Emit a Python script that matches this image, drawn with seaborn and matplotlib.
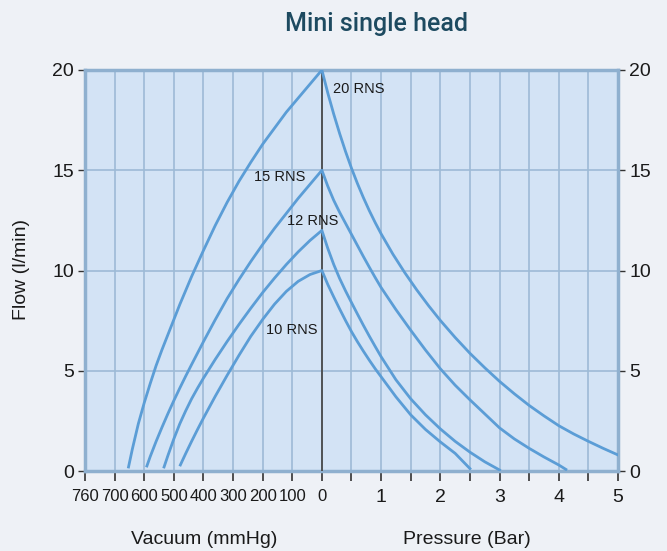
import numpy as np
import pandas as pd
import matplotlib
matplotlib.use("Agg")
import matplotlib.pyplot as plt
import seaborn as sns

# ---------------- data ----------------
title = "Mini single head"
models = ["20 RNS", "15 RNS", "12 RNS", "10 RNS"]

vac_tick_labels = ["760", "700", "600", "500", "400", "300", "200", "100", "0"]
vac_tick_values = [760, 700, 600, 500, 400, 300, 200, 100, 0]
bar_tick_labels = ["", "1", "", "2", "", "3", "", "4", "", "5"]
bar_tick_values = [0.5, 1, 1.5, 2, 2.5, 3, 3.5, 4, 4.5, 5]
flow_ticks = [0, 5, 10, 15, 20]

# vacuum side (mmHg -> flow l/min)
vac_20_mmhg = [653, 640, 620, 600, 580, 560, 540, 520, 500, 480, 460, 440,
               400, 360, 320, 280, 240, 200, 160, 120, 80, 40, 0]
vac_20_flow = [0.2, 1.1, 2.35, 3.4, 4.35, 5.25, 6.05, 6.8, 7.55, 8.3, 9.0, 9.7,
               11.0, 12.25, 13.4, 14.45, 15.4, 16.3, 17.1, 17.9, 18.6, 19.3, 20.0]
vac_15_mmhg = [591, 580, 560, 540, 520, 500, 480, 460, 440, 400,
               360, 320, 280, 240, 200, 160, 120, 80, 40, 0]
vac_15_flow = [0.25, 0.71, 1.47, 2.18, 2.86, 3.51, 4.13, 4.73, 5.31, 6.45,
               7.55, 8.6, 9.55, 10.45, 11.3, 12.1, 12.85, 13.6, 14.3, 15.0]
vac_12_mmhg = [533, 520, 500, 480, 460, 440, 420, 400, 360, 320, 280, 240,
               200, 160, 120, 80, 40, 0]
vac_12_flow = [0.2, 0.77, 1.6, 2.35, 3.0, 3.6, 4.13, 4.63, 5.57, 6.46, 7.31, 8.12,
               8.9, 9.62, 10.3, 10.93, 11.5, 12.0]
vac_10_mmhg = [478, 460, 440, 420, 400, 360, 320, 280, 240, 200, 160, 120, 80, 40, 0]
vac_10_flow = [0.3, 0.87, 1.48, 2.07, 2.64, 3.73, 4.77, 5.77, 6.72, 7.56, 8.32,
               8.96, 9.46, 9.8, 10.0]

# pressure side (bar -> flow l/min)
prs_20_bar = [0, 0.1, 0.2, 0.3, 0.4, 0.5, 0.6, 0.7, 0.8, 0.9, 1.0, 1.2, 1.4, 1.6,
              1.8, 2.0, 2.25, 2.5, 2.75, 3.0, 3.25, 3.5, 3.75, 4.0, 4.25, 4.5, 4.75, 5.0]
prs_20_flow = [20, 18.85, 17.8, 16.83, 15.93, 15.1, 14.34, 13.64, 12.99, 12.39, 11.83,
               10.81, 9.89, 9.04, 8.25, 7.51, 6.66, 5.87, 5.15, 4.47, 3.85, 3.27,
               2.75, 2.26, 1.85, 1.48, 1.13, 0.8]
prs_15_bar = [0, 0.1, 0.2, 0.3, 0.4, 0.5, 0.6, 0.7, 0.8, 0.9, 1.0, 1.25, 1.5, 1.75,
              2.0, 2.25, 2.5, 2.75, 3.0, 3.25, 3.5, 3.75, 4.0, 4.12]
prs_15_flow = [15, 14.2, 13.5, 12.9, 12.35, 11.8, 11.25, 10.7, 10.17, 9.65, 9.15,
               8.05, 7.02, 6.03, 5.1, 4.28, 3.55, 2.85, 2.15, 1.6, 1.13, 0.7, 0.3, 0.08]
prs_12_bar = [0, 0.1, 0.2, 0.3, 0.4, 0.5, 0.6, 0.7, 0.8, 0.9, 1.0, 1.25, 1.5, 1.75,
              2.0, 2.25, 2.5, 2.75, 3.0]
prs_12_flow = [12, 11.1, 10.3, 9.6, 8.98, 8.4, 7.83, 7.27, 6.73, 6.21, 5.7, 4.55,
               3.6, 2.8, 2.1, 1.48, 0.94, 0.46, 0.05]
prs_10_bar = [0, 0.1, 0.2, 0.3, 0.4, 0.5, 0.6, 0.7, 0.8, 0.9, 1.0, 1.25, 1.5, 1.75,
              2.0, 2.25, 2.5]
prs_10_flow = [10, 9.3, 8.68, 8.08, 7.5, 6.95, 6.45, 5.98, 5.53, 5.1, 4.7, 3.7, 2.8,
               2.07, 1.45, 0.88, 0.12]

vac_data = {"20 RNS": (vac_20_mmhg, vac_20_flow), "15 RNS": (vac_15_mmhg, vac_15_flow),
            "12 RNS": (vac_12_mmhg, vac_12_flow), "10 RNS": (vac_10_mmhg, vac_10_flow)}
prs_data = {"20 RNS": (prs_20_bar, prs_20_flow), "15 RNS": (prs_15_bar, prs_15_flow),
            "12 RNS": (prs_12_bar, prs_12_flow), "10 RNS": (prs_10_bar, prs_10_flow)}

# ---------------- scale ----------------
# vacuum ticks sit at evenly spaced positions left of 0 (0.5 unit per tick)
vac_tick_pos = [-0.5 * (len(vac_tick_values) - 1 - i) for i in range(len(vac_tick_values))]
vac_sorted = sorted(zip(vac_tick_values, vac_tick_pos))
vac_xp = [v for v, p in vac_sorted]
vac_fp = [p for v, p in vac_sorted]


def vac_to_pos(mm):
    return np.interp(mm, vac_xp, vac_fp)


rows = []
for m in models:
    vm, vf = vac_data[m]
    for mm, f in zip(vm, vf):
        rows.append({"model": m, "pos": float(vac_to_pos(mm)), "flow": f})
    pb, pf = prs_data[m]
    for b, f in list(zip(pb, pf))[1:]:
        rows.append({"model": m, "pos": b, "flow": f})
df = pd.DataFrame(rows)

# ---------------- style ----------------
bg = "#EEF1F6"
plot_bg = "#D3E3F5"
grid_c = "#9DBAD6"
spine_c = "#8FB0CF"
curve_c = "#5B9DD6"
text_c = "#1A1A1A"

plt.rcParams["font.family"] = ["Liberation Sans", "DejaVu Sans"]

fig = plt.figure(figsize=(6.67, 5.51), dpi=100, facecolor=bg)
ax = fig.add_axes([85 / 667, 1 - 471 / 551, 533 / 667, 401 / 551])
ax.set_facecolor(plot_bg)

sns.lineplot(data=df, x="pos", y="flow", units="model", estimator=None, sort=False,
             color=curve_c, lw=2.0, ax=ax, legend=False, zorder=4)

ax.axvline(0, color="#4A4A4A", lw=1.3, zorder=3)

ax.set_xlim(-4, 5)
ax.set_ylim(0, 20)
ax.set_xticks(vac_tick_pos + bar_tick_values)
ax.set_xticklabels(vac_tick_labels + bar_tick_labels)
ax.set_yticks(flow_ticks)
ax.set_yticklabels([str(t) for t in flow_ticks])
ax.grid(True, color=grid_c, lw=1.2, zorder=1)
ax.set_axisbelow(True)

for s in ax.spines.values():
    s.set_color(spine_c)
    s.set_linewidth(2.5)

ax.tick_params(axis="x", length=7, width=1.2, color="#333333", pad=6,
               labelsize=12, labelcolor=text_c)
ax.tick_params(axis="y", left=True, right=True, labelleft=True, labelright=True,
               length=5, width=1.0, color="#333333", pad=3, labelsize=14,
               labelcolor=text_c)
# pressure numbers are a little larger than the crowded vacuum numbers
for lbl in ax.get_xticklabels()[len(vac_tick_labels):]:
    lbl.set_fontsize(14)
ax.set_xlabel("")
ax.set_ylabel("")

# curve labels
ax.text(0.19, 19.05, "20 RNS", ha="left", va="center", fontsize=10.5, color=text_c, zorder=5)
ax.text(-1.145, 14.64, "15 RNS", ha="left", va="center", fontsize=10.5, color=text_c, zorder=5)
ax.text(-0.589, 12.49, "12 RNS", ha="left", va="center", fontsize=10.5, color=text_c, zorder=5)
ax.text(-0.95, 7.01, "10 RNS", ha="left", va="center", fontsize=10.5, color=text_c, zorder=5)

fig.text(22 / 667, 1 - 270 / 551, "Flow (l/min)", rotation=90, ha="center", va="center",
         fontsize=14, color=text_c)
fig.text(204 / 667, 1 - 539 / 551, "Vacuum (mmHg)", ha="center", va="center",
         fontsize=14, color=text_c)
fig.text(467 / 667, 1 - 539 / 551, "Pressure (Bar)", ha="center", va="center",
         fontsize=14, color=text_c)
fig.text(377 / 667, 1 - 31 / 551, title, ha="center", va="baseline", fontsize=18,
         color="#1D4A60", family=["Roboto", "DejaVu Sans"], fontweight="medium")

fig.savefig("out.png", dpi=100, facecolor=bg)
